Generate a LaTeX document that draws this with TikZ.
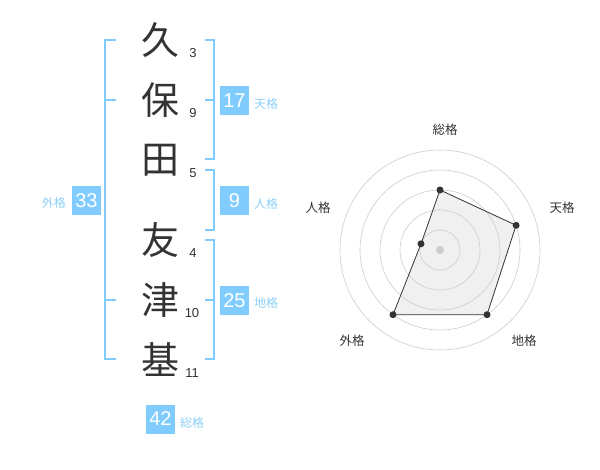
\documentclass[tikz,border=0pt]{standalone}
\usepackage{fontspec}
\setmainfont{Liberation Sans}
\newfontfamily\cjk{Noto Sans CJK JP}
\definecolor{kbox}{HTML}{80CCFF}
\definecolor{klab}{HTML}{8ED0F8}
\definecolor{kdark}{HTML}{333333}
\definecolor{kgrid}{HTML}{CCCCCC}
\definecolor{kfill}{HTML}{F0F0F0}
\begin{document}
\begin{tikzpicture}[x=1pt,y=-1pt,
  namech/.style={font=\cjk\fontsize{38}{38}\selectfont, text=kdark, inner sep=0pt},
  strokes/.style={font=\fontsize{13}{13}\selectfont, text=kdark, inner sep=0pt},
  kakubox/.style={fill=kbox, text=white, minimum width=29pt, minimum height=29pt, inner sep=0pt, font=\fontsize{20}{20}\selectfont},
  kakulab/.style={font=\cjk\fontsize{12}{12}\selectfont, text=klab, inner sep=0pt},
  bracket/.style={draw=kbox, line width=2pt},
  ring/.style={draw=kgrid, line width=0.6pt},
  radarlab/.style={font=\cjk\fontsize{12.5}{12.5}\selectfont, text=kdark, inner sep=0pt},
  dot/.style={circle, fill=kdark, inner sep=0pt, minimum size=7pt}]
\useasboundingbox (0,0) rectangle (600,470);
% name characters
\node[namech] (c1) at (160,40) {久};
\node[namech] (c2) at (160,100) {保};
\node[namech] (c3) at (160,160) {田};
\node[namech] (c4) at (160,240) {友};
\node[namech] (c5) at (160,300) {津};
\node[namech] (c6) at (160,360) {基};
% stroke counts
\node[strokes] (s1) at (193,53) {3};
\node[strokes] (s2) at (193,113) {9};
\node[strokes] (s3) at (193,173) {5};
\node[strokes] (s4) at (193,253) {4};
\node[strokes] (s5) at (192,313) {10};
\node[strokes] (s6) at (192,373) {11};
% left bracket (gaikaku)
\draw[bracket] (116,40) -- (105,40) -- (105,359) -- (116,359);
\draw[bracket] (105,100) -- (116,100);
\draw[bracket] (105,300) -- (116,300);
% right brackets
\draw[bracket] (205,40) -- (214,40) -- (214,159) -- (205,159);
\draw[bracket] (214,100) -- (205,100);
\draw[bracket] (205,170) -- (214,170) -- (214,230) -- (205,230);
\draw[bracket] (205,240) -- (214,240) -- (214,359) -- (205,359);
\draw[bracket] (214,300) -- (205,300);
% boxes
\node[kakubox] (b17) at (234.5,100.5) {17};
\node[kakulab, anchor=west] (l17) at (254,104) {天格};
\node[kakubox] (b9) at (234.5,200.5) {9};
\node[kakulab, anchor=west] (l9) at (254,204) {人格};
\node[kakubox] (b25) at (234.5,300.5) {25};
\node[kakulab, anchor=west] (l25) at (254,303) {地格};
\node[kakubox] (b33) at (86.5,200.5) {33};
\node[kakulab, anchor=east] (l33) at (66,203) {外格};
\node[kakubox] (b42) at (160.5,419) {42};
\node[kakulab, anchor=west] (l42) at (180,423) {総格};
% radar chart
\path (440,250) ++(0,-60) coordinate (q1);
\path (440,250) ++(76.1,-24.7) coordinate (q2);
\path (440,250) ++(47.0,64.7) coordinate (q3);
\path (440,250) ++(-47.0,64.7) coordinate (q4);
\path (440,250) ++(-19.0,-6.2) coordinate (q5);
\fill[kfill] (q1) -- (q2) -- (q3) -- (q4) -- (q5) -- cycle;
\foreach \r in {20,40,60,80,100} \draw[ring] (440,250) circle (\r);
\fill[kgrid] (440,250) circle (4);
\draw[kdark, line width=0.8pt] (q1) -- (q2) -- (q3) -- (q4) -- (q5) -- cycle;
\node[dot] (d1) at (q1) {};
\node[dot] (d2) at (q2) {};
\node[dot] (d3) at (q3) {};
\node[dot] (d4) at (q4) {};
\node[dot] (d5) at (q5) {};
\node[radarlab] (r1) at (445,130) {総格};
\node[radarlab] (r2) at (562,208) {天格};
\node[radarlab] (r3) at (524,341) {地格};
\node[radarlab] (r4) at (352,341) {外格};
\node[radarlab] (r5) at (318,208) {人格};
\end{tikzpicture}
\end{document}
